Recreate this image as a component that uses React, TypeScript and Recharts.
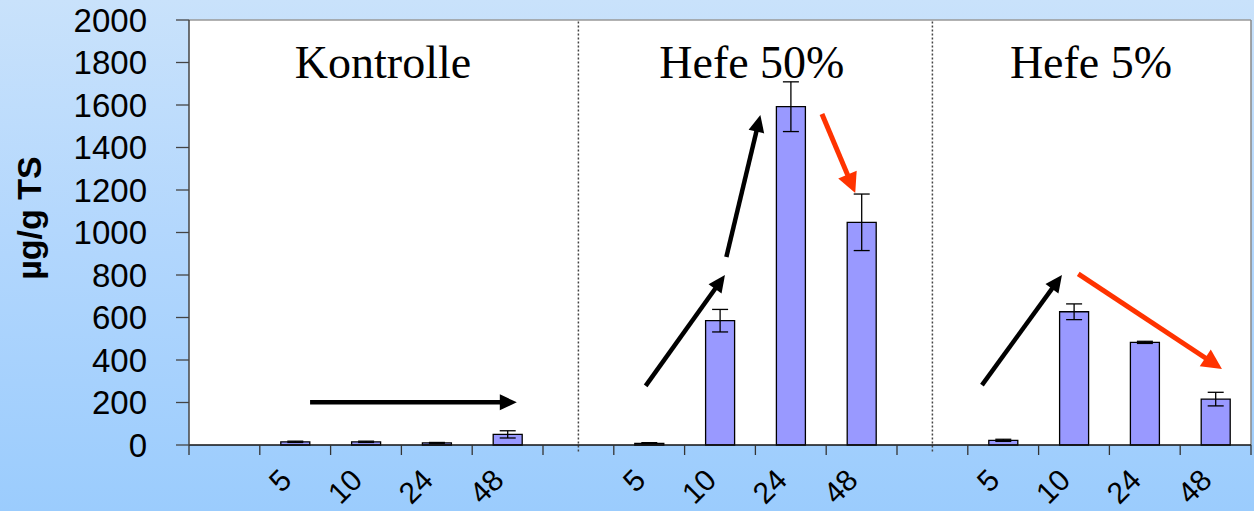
import React from 'react';
import {
  ComposedChart, Bar, ErrorBar, XAxis, YAxis, ReferenceLine, ReferenceDot, Label, CartesianGrid,
} from 'recharts';

// 15 slots: leading blank, separators between groups
const categories = ['k0', 'k5', 'k10', 'k24', 'k48', 's1', 'a5', 'a10', 'a24', 'a48', 's2', 'b5', 'b10', 'b24', 'b48'];
const tickLabels = ['', '5', '10', '24', '48', '', '5', '10', '24', '48', '', '5', '10', '24', '48'];
const means = [null, 15, 15, 10, 50, null, 8, 585, 1592, 1048, null, 22, 627, 483, 216];
const errors = [null, 3, 3, 2, 17, null, 3, 53, 117, 133, null, 5, 37, 5, 32];
const yTicks = [0, 200, 400, 600, 800, 1000, 1200, 1400, 1600, 1800, 2000];
const slotEdges = [0, 1, 2, 3, 4, 5, 6, 7, 8, 9, 10, 11, 12, 13, 14, 15];

const groupTitles = [
  { text: 'Kontrolle', pos: 2.74 },
  { text: 'Hefe 50%', pos: 7.95 },
  { text: 'Hefe 5%', pos: 12.74 },
];

// arrows in data space on the slot axis
const arrows = [
  { from: [1.71, 201], to: [4.63, 201], color: '#000000' },
  { from: [6.45, 278], to: [7.57, 800], color: '#000000' },
  { from: [7.59, 885], to: [8.07, 1553], color: '#000000' },
  { from: [8.94, 1558], to: [9.41, 1186], color: '#ff3300' },
  { from: [11.2, 282], to: [12.33, 800], color: '#000000' },
  { from: [12.56, 805], to: [14.59, 358], color: '#ff3300' },
];

const data = categories.map((c, i) => ({
  cat: c,
  pos: i + 0.5,
  value: means[i],
  err: errors[i],
}));

const SANS = '"Liberation Sans", Arial, sans-serif';
const SERIF = '"Liberation Serif", "Times New Roman", serif';

const arrowShape = (color: string) => (props: any) => {
  const { x1, y1, x2, y2 } = props;
  if ([x1, y1, x2, y2].some((v) => v == null || isNaN(v))) return <g />;
  const dx = x2 - x1;
  const dy = y2 - y1;
  const len = Math.sqrt(dx * dx + dy * dy);
  const ux = dx / len;
  const uy = dy / len;
  const headLen = color === '#000000' ? 17 : 20;
  const headHalf = color === '#000000' ? 8 : 10;
  const bx = x2 - ux * headLen;
  const by = y2 - uy * headLen;
  const pts = `${x2},${y2} ${bx - uy * headHalf},${by + ux * headHalf} ${bx + uy * headHalf},${by - ux * headHalf}`;
  return (
    <g>
      <line x1={x1} y1={y1} x2={bx + ux * 2} y2={by + uy * 2} stroke={color} strokeWidth={color === '#000000' ? 4.5 : 5} />
      <polygon points={pts} fill={color} />
    </g>
  );
};

const CatTick = (props: any) => {
  const { x, payload } = props;
  const i = categories.indexOf(payload.value);
  const label = tickLabels[i];
  if (!label) return <g />;
  const ax = x - 2;
  const ay = 482;
  return (
    <text x={ax} y={ay} transform={`rotate(-45 ${ax} ${ay})`} textAnchor="end" fontSize={30} fontFamily={SANS} fill="#000">
      {label}
    </text>
  );
};

const YLabel = (props: any) => {
  const { viewBox } = props;
  const cx = viewBox.x + 29;
  const cy = 218;
  return (
    <text x={cx} y={cy} transform={`rotate(-90 ${cx} ${cy})`} textAnchor="middle" dominantBaseline="central"
      fontSize={34} fontWeight="bold" fontFamily={SANS} fill="#000">
      µg/g TS
    </text>
  );
};

export default function App() {
  return (
    <div style={{
      position: 'fixed', left: 0, top: 0, width: 1254, height: 511,
      background: 'linear-gradient(to bottom, #c9e2fb 0%, #b3d7fd 45%, #9bccfd 100%)',
    }}>
      <ComposedChart width={1254} height={511} data={data} margin={{ top: 20, right: 3, bottom: 0, left: 0 }} barSize={29}>
        <CartesianGrid xAxisId="edge" horizontal={false} vertical={false} fill="#ffffff" stroke="none" />
        <XAxis xAxisId="edge" type="number" dataKey="pos" domain={[0, 15]} ticks={slotEdges} height={1}
          tickFormatter={() => ''} tickSize={10} tickLine={{ stroke: '#333', strokeWidth: 1.3 }}
          axisLine={{ stroke: '#111', strokeWidth: 1.5 }} allowDataOverflow interval={0} />
        <XAxis xAxisId="label" dataKey="cat" type="category" height={65} interval={0}
          axisLine={false} tickLine={false} tick={<CatTick />} />
        <YAxis type="number" domain={[0, 2000]} ticks={yTicks} width={189} interval={0}
          tickSize={13} tickMargin={29} tickLine={{ stroke: '#444', strokeWidth: 1.3 }}
          axisLine={{ stroke: '#444', strokeWidth: 1.5 }}
          tick={{ fontSize: 33, fontFamily: SANS, fill: '#000' }}>
          <Label content={<YLabel />} />
        </YAxis>

        <ReferenceLine xAxisId="edge" y={2000} stroke="#999" strokeWidth={1.5} ifOverflow="visible" />
        <ReferenceLine xAxisId="edge" x={15} stroke="#888" strokeWidth={1.5} ifOverflow="visible" />
        <ReferenceLine xAxisId="label" segment={[{ x: 's1', y: -30 }, { x: 's1', y: 2000 }]}
          stroke="#444" strokeWidth={1.5} strokeDasharray="2 2" ifOverflow="visible" />
        <ReferenceLine xAxisId="label" segment={[{ x: 's2', y: -30 }, { x: 's2', y: 2000 }]}
          stroke="#444" strokeWidth={1.5} strokeDasharray="2 2" ifOverflow="visible" />

        <Bar xAxisId="label" dataKey="value" fill="#9999ff" stroke="#000" strokeWidth={1.3} isAnimationActive={false}>
          <ErrorBar dataKey="err" width={8} stroke="#000" strokeWidth={1.3} direction="y" />
        </Bar>

        {groupTitles.map((t) => (
          <ReferenceDot key={t.text} xAxisId="edge" x={t.pos} y={1802} r={0} fill="none" stroke="none" ifOverflow="visible"
            label={{ value: t.text, position: 'center', fontSize: 46, fontFamily: SERIF, fill: '#000' }} />
        ))}

        {arrows.map((a, i) => (
          <ReferenceLine key={i} xAxisId="edge" ifOverflow="visible"
            segment={[{ x: a.from[0], y: a.from[1] }, { x: a.to[0], y: a.to[1] }]}
            shape={arrowShape(a.color)} />
        ))}
      </ComposedChart>
    </div>
  );
}
